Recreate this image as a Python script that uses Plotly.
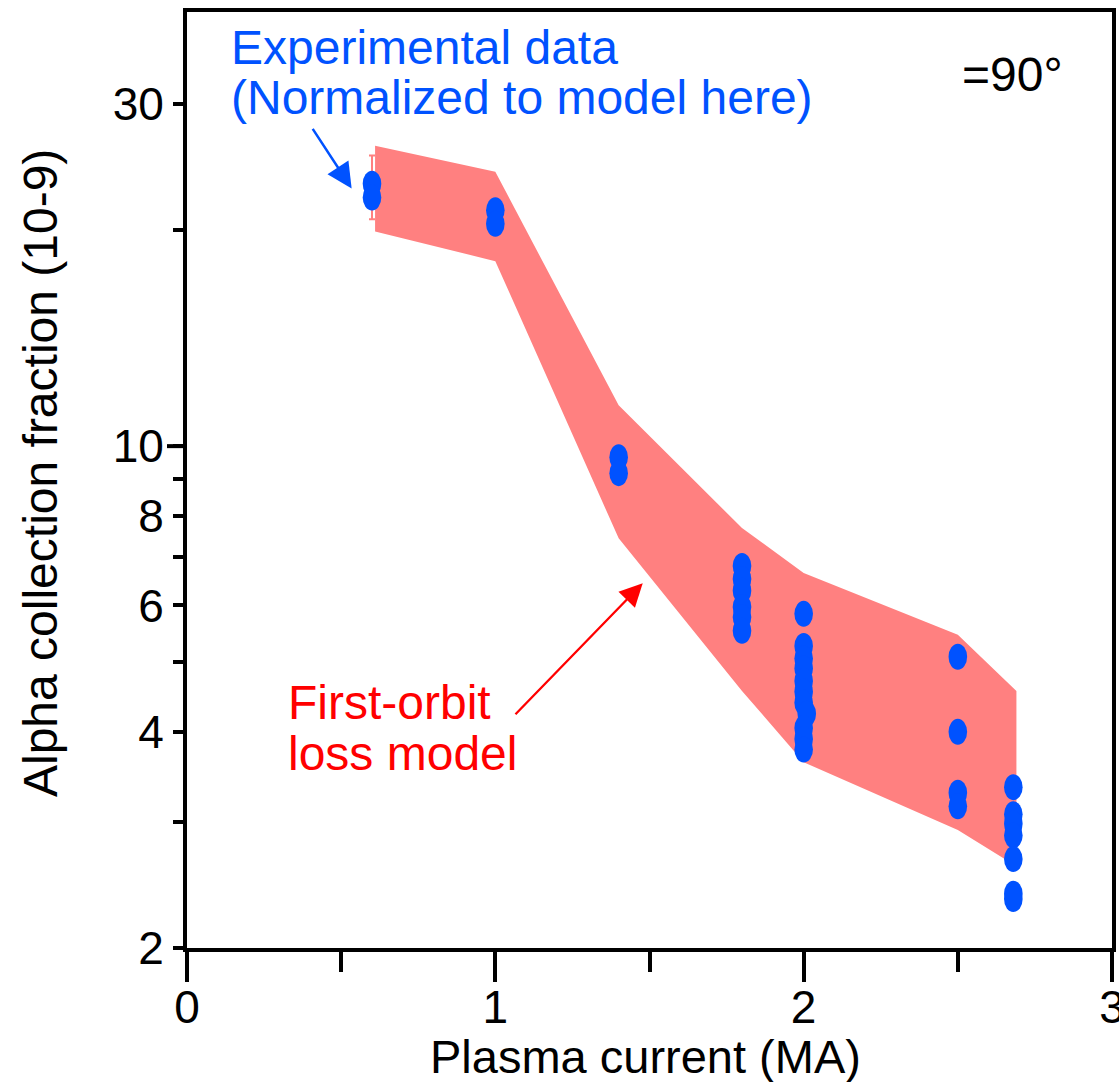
import numpy as np
import plotly.graph_objects as go

# ---- data ----
band_x = [0.61, 1.0, 1.4, 1.8, 2.0, 2.5, 2.69]
band_upper = [26.2, 24.1, 11.4, 7.69, 6.66, 5.46, 4.56]
band_lower = [19.9, 18.1, 7.44, 4.56, 3.63, 2.92, 2.60]

exp_x = [0.6, 0.6,
         1.0, 1.0,
         1.4, 1.4,
         1.8, 1.8, 1.8, 1.8, 1.8, 1.8,
         2.0, 2.0, 2.0, 2.0, 2.0, 2.0, 2.0, 2.01, 2.0, 2.0, 2.0,
         2.5, 2.5, 2.5, 2.5,
         2.68, 2.68, 2.68, 2.68, 2.68, 2.68, 2.68]
exp_y = [23.2, 22.2,
         21.3, 20.4,
         9.65, 9.17,
         6.81, 6.53, 6.29, 5.97, 5.78, 5.53,
         5.84, 5.27, 5.06, 4.90, 4.71, 4.55, 4.39, 4.24, 4.05, 3.91, 3.78,
         5.09, 4.00, 3.29, 3.15,
         3.35, 3.07, 2.98, 2.87, 2.66, 2.38, 2.34]

err_x = [0.6]
err_y = [23.0]
err_plus = [2.4]
err_minus = [2.3]

x_ticks = [0, 1, 2, 3]
x_minor = [0.5, 1.5, 2.5]
y_ticks = [2, 3, 4, 5, 6, 7, 8, 9, 10, 20, 30]
y_ticktext = ["2", "", "4", "", "6", "", "8", "", "10", "", "30"]

BLUE = "#0052FF"
PINK = "#FF8080"
RED = "#FF0000"
FONT = "Liberation Sans, Arial, Helvetica, sans-serif"
FS = 46
AFS = 48

PLOT_H = 936                      # plot-area height in px
Y_LO = np.log10(2)
PX_PER_DEC = 718.0
Y_HI = Y_LO + PLOT_H / PX_PER_DEC
HALF_H = 13.0                     # marker half-height in px
HALF_W = 9.3                      # marker half-width in px
dec = HALF_H / PX_PER_DEC         # half-height expressed in decades

fig = go.Figure()

# model band
fig.add_trace(go.Scatter(
    x=band_x + band_x[::-1],
    y=band_upper + band_lower[::-1],
    fill="toself", fillcolor=PINK, mode="lines",
    line=dict(width=0, color=PINK), hoverinfo="skip", showlegend=False))

# error bar at first point
fig.add_trace(go.Scatter(
    x=err_x, y=err_y, mode="markers",
    marker=dict(size=1, color="rgba(0,0,0,0)"),
    error_y=dict(type="data", array=err_plus, arrayminus=err_minus,
                 color=PINK, thickness=2, width=3),
    showlegend=False, hoverinfo="skip"))

# experimental points: tall ellipses placed on the data axes
shapes = []
for xv, yv in zip(exp_x, exp_y):
    shapes.append(dict(
        type="circle", xref="x", yref="y",
        xsizemode="pixel", xanchor=xv, x0=-HALF_W, x1=HALF_W,
        y0=yv * 10 ** (-dec), y1=yv * 10 ** dec,
        fillcolor=BLUE, line=dict(width=0), layer="above"))

# longer tick at 10
shapes.append(dict(type="line", xref="paper", yref="y",
                   x0=-20 / 925, x1=0, y0=10, y1=10,
                   line=dict(color="black", width=4)))

annotations = [
    dict(text="Experimental data", xref="paper", yref="paper",
         x=(229 - 187) / 925, y=(948 - 48) / 936, xanchor="left", yanchor="middle",
         showarrow=False, font=dict(size=AFS, color=BLUE, family=FONT)),
    dict(text="(Normalized to model here)", xref="paper", yref="paper",
         x=(229 - 187) / 925, y=(948 - 97) / 936, xanchor="left", yanchor="middle",
         showarrow=False, font=dict(size=AFS, color=BLUE, family=FONT)),
    dict(text="=90°", xref="paper", yref="paper",
         x=(960 - 187) / 925, y=(948 - 75) / 936, xanchor="left", yanchor="middle",
         showarrow=False, font=dict(size=AFS, color="black", family=FONT)),
    dict(text="First-orbit", xref="paper", yref="paper",
         x=(286 - 187) / 925, y=(948 - 702) / 936, xanchor="left", yanchor="middle",
         showarrow=False, font=dict(size=AFS, color=RED, family=FONT)),
    dict(text="loss model", xref="paper", yref="paper",
         x=(286 - 187) / 925, y=(948 - 753) / 936, xanchor="left", yanchor="middle",
         showarrow=False, font=dict(size=AFS, color=RED, family=FONT)),
    dict(text="Alpha collection fraction (10-9)", xref="paper", yref="paper",
         x=(40 - 187) / 925, y=(948 - 473) / 936, xanchor="center", yanchor="middle",
         textangle=-90, showarrow=False, font=dict(size=48, color="black", family=FONT)),
    dict(text="Plasma current (MA)", xref="paper", yref="paper",
         x=(645 - 187) / 925, y=(948 - 1056) / 936, xanchor="center", yanchor="middle",
         showarrow=False, font=dict(size=47, color="black", family=FONT)),
    # arrows (annotation coords on the log axis are log10 values)
    dict(text="", x=0.534, y=1.359, xref="x", yref="y",
         ax=0.4045, ay=1.444, axref="x", ayref="y",
         showarrow=True, arrowhead=2, arrowsize=2, arrowwidth=2.5, arrowcolor=BLUE),
    dict(text="", x=1.478, y=0.809, xref="x", yref="y",
         ax=1.0606, ay=0.6245, axref="x", ayref="y",
         showarrow=True, arrowhead=2, arrowsize=2, arrowwidth=2.3, arrowcolor=RED),
]

fig.update_layout(
    width=1119, height=1082, autosize=False,
    margin=dict(l=187, r=7, t=12, b=134, pad=0),
    plot_bgcolor="white", paper_bgcolor="white",
    font=dict(family=FONT, size=FS, color="black"),
    shapes=shapes, annotations=annotations, showlegend=False,
)

fig.update_xaxes(
    range=[0, 3], tickvals=x_ticks, ticktext=[str(v) for v in x_ticks],
    ticks="outside", ticklen=30, tickwidth=3.5, tickcolor="black",
    minor=dict(tickvals=x_minor, ticks="outside", ticklen=20, tickwidth=3.5, tickcolor="black"),
    showline=True, linewidth=4, linecolor="black", mirror=True,
    showgrid=False, zeroline=False, tickfont=dict(size=FS, family=FONT),
    ticklabelstandoff=-14, ticklabeloverflow="allow", automargin=False,
)
fig.update_yaxes(
    type="log", range=[Y_LO, Y_HI],
    tickvals=y_ticks, ticktext=y_ticktext,
    ticks="outside", ticklen=10, tickwidth=4, tickcolor="black",
    showline=True, linewidth=4, linecolor="black", mirror=True,
    showgrid=False, zeroline=False, tickfont=dict(size=FS, family=FONT),
    ticklabeloverflow="allow", automargin=False,
)

fig.write_html("out.html")
